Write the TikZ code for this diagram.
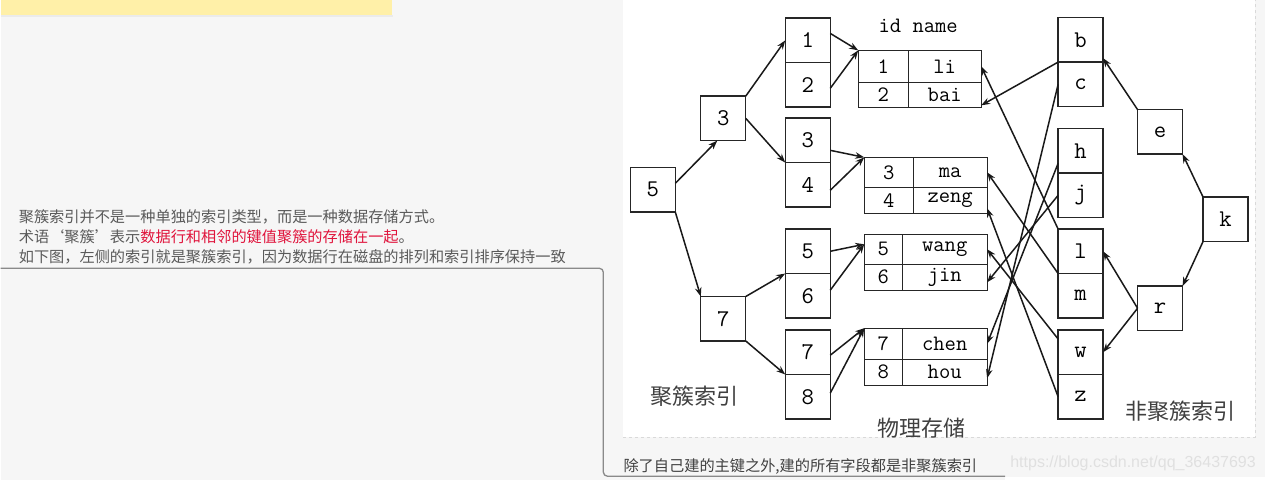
\documentclass[tikz,border=0pt]{standalone}
\usepackage{fontspec}
\newfontfamily\cjk{Noto Sans CJK SC}
\newfontfamily\urlfont{Liberation Sans}
\usetikzlibrary{arrows.meta, positioning}

\definecolor{pagebg}{HTML}{F6F6F6}
\definecolor{notebg}{HTML}{FFF0A8}
\definecolor{notetext}{HTML}{5A5A5A}
\definecolor{hilite}{HTML}{E0143C}
\definecolor{mmgray}{HTML}{8A8A8A}

\newcommand{\keyfont}{\fontsize{24}{24}\ttfamily}
\newcommand{\cellfont}{\fontsize{22}{22}\ttfamily}

\tikzset{
  keybox/.style={draw=black!85, line width=1.3pt, minimum width=45pt, minimum height=44.5pt, inner sep=0pt, outer sep=0pt, font=\keyfont},
  cell/.style={draw=black!85, line width=1.3pt, inner sep=0pt, outer sep=0pt, font=\cellfont, anchor=north west},
  link/.style={-{Stealth[length=9pt,width=6.5pt]}, line width=1.5pt, black!90},
  caption/.style={font=\cjk\fontsize{22}{22}\selectfont, text=black!75},
  note/.style={font=\cjk\fontsize{15.2}{15.2}\selectfont, text=notetext, anchor=west, inner sep=0pt},
}

\begin{document}
\begin{tikzpicture}[x=1pt, y=-1pt]
    % page, note strip and picture panel
    \fill[pagebg] (0,0) rectangle (1265,480);
    \fill[black!8] (0,15) rectangle (393,16.5);
    \fill[notebg] (0,0) rectangle (392,15);
    \fill[white] (623,0) rectangle (1255,437);
    \draw[black!15, dashed, line width=0.8pt] (623,437) -- (1255,437) -- (1255,0);
    \fill[white] (1005,477) rectangle (1265,480);

    % notes on the left
    \node[note] (note1) at (18,217) {聚簇索引并不是一种单独的索引类型，而是一种数据存储方式。};
    \node[note] (note2) at (18,236) {术语‘聚簇’表示\textcolor{hilite}{数据行和相邻的键值聚簇的存储在一起}。};
    \node[note] (note3) at (18,257) {如下图，左侧的索引就是聚簇索引，因为数据行在磁盘的排列和索引排序保持一致};
    \node[note, text=black!75] (note4) at (623,466) {除了自己建的主键之外,建的所有字段都是非聚簇索引};
    \node[anchor=west, inner sep=0pt, font=\urlfont\fontsize{16}{16}\selectfont, text=black!12] (mark) at (1010,463) {https://blog.csdn.net/qq\_36437693};

    \coordinate (mmstart) at (0,268);
    \coordinate (mmbend) at (603,268);
    \coordinate (mmfoot) at (603,476);
    \coordinate (mmend) at (1005,476);
    \draw[mmgray, line width=1.3pt, rounded corners=4pt] (mmstart) -- (mmbend) -- (mmfoot) -- (mmend);

    % clustered index
    \node[keybox] (root5) at (652.5,189.5) {5};
    \node[keybox] (mid3) at (723,118) {3};
    \node[keybox] (mid7) at (723,318.5) {7};
    \node[keybox] (leaf1) at (807.5,40) {1};
    \node[keybox] (leaf2) [below = 0pt of leaf1] {2};
    \node[keybox] (leaf3) at (807.5,140) {3};
    \node[keybox] (leaf4) [below = 0pt of leaf3] {4};
    \node[keybox] (leaf5) at (807.5,251) {5};
    \node[keybox] (leaf6) [below = 0pt of leaf5] {6};
    \node[keybox] (leaf7) at (807.5,352) {7};
    \node[keybox] (leaf8) [below = 0pt of leaf7] {8};

    % physical rows
    \node[font=\cellfont] (head) at (918,25) {id name};
    \node[cell, minimum width=50pt, minimum height=32pt] (id1) at (858,50) {1};
    \node[cell, minimum width=73pt, minimum height=32pt] (nm1) [right = 0pt of id1] {li};
    \node[cell, minimum width=50pt, minimum height=25pt] (id2) [below = 0pt of id1] {2};
    \node[cell, minimum width=73pt, minimum height=25pt] (nm2) [right = 0pt of id2] {bai};
    \node[cell, minimum width=49pt, minimum height=30pt] (id3) at (864,157) {3};
    \node[cell, minimum width=74pt, minimum height=30pt] (nm3) [right = 0pt of id3] {ma};
    \node[cell, minimum width=49pt, minimum height=26pt] (id4) [below = 0pt of id3] {4};
    \node[cell, minimum width=74pt, minimum height=26pt] (nm4) [right = 0pt of id4] {zeng};
    \node[cell, minimum width=38pt, minimum height=30pt] (id5) at (864,234) {5};
    \node[cell, minimum width=85pt, minimum height=30pt] (nm5) [right = 0pt of id5] {wang};
    \node[cell, minimum width=38pt, minimum height=26pt] (id6) [below = 0pt of id5] {6};
    \node[cell, minimum width=85pt, minimum height=26pt] (nm6) [right = 0pt of id6] {jin};
    \node[cell, minimum width=38pt, minimum height=31pt] (id7) at (864,328) {7};
    \node[cell, minimum width=85pt, minimum height=31pt] (nm7) [right = 0pt of id7] {chen};
    \node[cell, minimum width=38pt, minimum height=26pt] (id8) [below = 0pt of id7] {8};
    \node[cell, minimum width=85pt, minimum height=26pt] (nm8) [right = 0pt of id8] {hou};

    % non-clustered index
    \node[keybox] (nk) at (1225.5,219) {k};
    \node[keybox] (ne) at (1160,131.5) {e};
    \node[keybox] (nr) at (1160,308) {r};
    \node[keybox] (nb) at (1080.5,39.5) {b};
    \node[keybox] (nc) [below = 0pt of nb] {c};
    \node[keybox] (nh) at (1080.5,150.5) {h};
    \node[keybox] (nj) [below = 0pt of nh] {j};
    \node[keybox] (nl) at (1080.5,251) {l};
    \node[keybox] (nm) [below = 0pt of nl] {m};
    \node[keybox] (nw) at (1080.5,352) {w};
    \node[keybox] (nz) [below = 0pt of nw] {z};

    \node[caption] (capleft) at (694,396) {聚簇索引};
    \node[caption] (capmid) at (921,428) {物理存储};
    \node[caption] (capright) at (1180,411) {非聚簇索引};

    \draw[link] ([yshift=6.5pt]root5.east) -- ([xshift=-6pt]mid3.south);
    \draw[link] (root5.south east) -- (mid7.north west);
    \draw[link] (mid3.north east) -- (leaf1.west);
    \draw[link] (mid3.east) -- (leaf3.south west);
    \draw[link] (mid7.north east) -- (leaf5.south west);
    \draw[link] (mid7.south east) -- (leaf7.south west);
    \draw[link] ([yshift=7pt]leaf1.east) -- (id1.north west);
    \draw[link] ([yshift=-3.5pt]leaf2.east) -- (id1.north west);
    \draw[link] ([yshift=-10pt]leaf3.east) -- (id3.north west);
    \draw[link] ([yshift=-5.5pt]leaf4.east) -- (id3.north west);
    \draw[link] (leaf5.east) -- ([yshift=-10pt]id5.north west);
    \draw[link] ([yshift=5.5pt]leaf6.east) -- ([yshift=-10pt]id5.north west);
    \draw[link] ([yshift=-3pt]leaf7.east) -- (id7.north west);
    \draw[link] ([yshift=3.5pt]leaf8.east) -- (id7.north west);

    \draw[link] (nk.north west) -- (ne.south east);
    \draw[link] (ne.north west) -- ([yshift=4pt]nb.south east);
    \draw[link] (nk.south west) -- (nr.north east);
    \draw[link] (nr.west) -- (nl.east);
    \draw[link] (nr.west) -- (nw.east);
    \draw[link] (nb.south west) -- ([yshift=2pt]nm2.south east);
    \draw[link] (nc.west) -- ([yshift=-6pt]nm8.east);
    \draw[link] ([yshift=-12.5pt]nh.west) -- (nm7.east);
    \draw[link] (nj.west) -- ([yshift=-5pt]nm6.east);
    \draw[link] (nl.north west) -- (nm1.east);
    \draw[link] (nm.north west) -- (nm3.east);
    \draw[link] ([yshift=-9pt]nw.north west) -- (nm5.east);
    \draw[link] (nz.west) -- ([yshift=-8pt]nm4.east);
\end{tikzpicture}
\end{document}
